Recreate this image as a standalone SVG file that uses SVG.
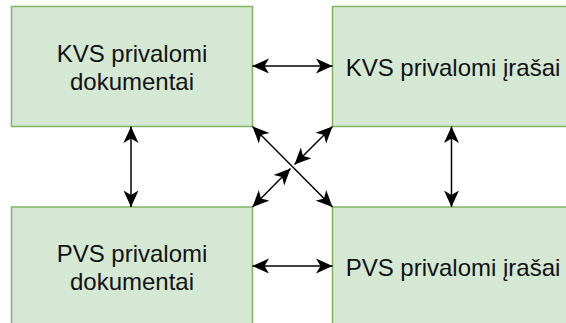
<svg xmlns="http://www.w3.org/2000/svg" width="566" height="323" viewBox="0 0 566 323">
  <style>
    .box { fill: #d5e8d4; stroke: #82b366; stroke-width: 1.5; }
    .lbl { font-family: "Liberation Sans", Arial, sans-serif; font-size: 24px; fill: #111; text-anchor: middle; }
    .edge { stroke: #000; stroke-width: 1.5; fill: none; marker-start: url(#arr); marker-end: url(#arr); }
  </style>
  <defs>
    <marker id="arr" viewBox="0 0 17 16" refX="16.5" refY="8" markerWidth="17" markerHeight="16" markerUnits="userSpaceOnUse" orient="auto-start-reverse">
      <path d="M16.5,8 L0,0.5 L4.5,8 L0,15.5 Z" fill="#000"/>
    </marker>
  </defs>
  <rect width="566" height="323" fill="#fff"/>
  <g id="kvs-dokumentai">
    <rect class="box" x="11.5" y="6.5" width="241" height="120"/>
    <text class="lbl" x="132" y="61.5">KVS privalomi</text>
    <text class="lbl" x="132" y="90">dokumentai</text>
  </g>
  <g id="kvs-irasai">
    <rect class="box" x="332.5" y="6.5" width="241" height="120"/>
    <text class="lbl" x="453" y="75.5">KVS privalomi įrašai</text>
  </g>
  <g id="pvs-dokumentai">
    <rect class="box" x="11.5" y="207" width="241" height="120"/>
    <text class="lbl" x="132" y="261.5">PVS privalomi</text>
    <text class="lbl" x="132" y="290">dokumentai</text>
  </g>
  <g id="pvs-irasai">
    <rect class="box" x="332.5" y="207" width="241" height="120"/>
    <text class="lbl" x="453" y="276">PVS privalomi įrašai</text>
  </g>
  <g id="connectors">
    <line class="edge" x1="252.5" y1="66" x2="332.5" y2="66"/>
    <line class="edge" x1="252.5" y1="266" x2="332.5" y2="266"/>
    <line class="edge" x1="131" y1="126.5" x2="131" y2="207"/>
    <line class="edge" x1="451.5" y1="126.5" x2="451.5" y2="207"/>
    <line class="edge" x1="252.5" y1="126.5" x2="332.5" y2="207"/>
    <line class="edge" x1="332.5" y1="126.5" x2="294.5" y2="164.5"/>
    <line class="edge" x1="290.5" y1="168.5" x2="252.5" y2="207"/>
  </g>
</svg>
